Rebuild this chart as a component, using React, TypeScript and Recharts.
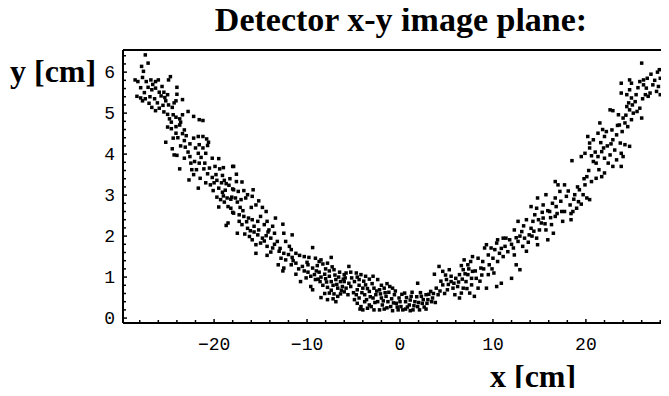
import { ScatterChart, Scatter, XAxis, YAxis } from "recharts";

// hits, [x cm, y cm]
const leftArm: [number, number][] = [
  [-27.4, 6.42], [-27.1, 6.22], [-27.8, 6.14], [-27.6, 6.02], [-28.5, 5.81], [-28.2, 5.77], [-27.7, 5.87], [-27.3, 5.77],
  [-26.8, 5.81], [-26.3, 5.77], [-26.0, 5.81], [-24.7, 5.89], [-24.9, 5.81], [-27.1, 5.63], [-26.7, 5.57], [-26.3, 5.61],
  [-25.9, 5.51], [-25.4, 5.51], [-25.0, 5.45], [-24.0, 5.63], [-24.0, 5.46], [-23.4, 5.33], [-24.1, 5.30], [-28.3, 5.41],
  [-27.9, 5.37], [-27.7, 5.30], [-27.4, 5.35], [-27.0, 5.24], [-26.7, 5.14], [-26.3, 5.06], [-25.9, 5.12], [-25.5, 5.19],
  [-25.2, 5.30], [-25.3, 5.38], [-24.5, 5.14], [-22.8, 5.04], [-22.2, 4.92], [-21.6, 4.84], [-21.2, 4.82], [-25.0, 4.97],
  [-24.8, 4.86], [-24.4, 4.96], [-24.1, 4.90], [-23.7, 4.86], [-23.4, 4.96], [-23.6, 4.78], [-25.0, 4.66], [-24.6, 4.62],
  [-24.1, 4.67], [-23.7, 4.71], [-23.2, 4.59], [-23.4, 4.50], [-24.1, 4.51], [-24.4, 4.39], [-25.2, 4.29], [-22.2, 4.39],
  [-21.7, 4.43], [-21.2, 4.43], [-20.8, 4.37], [-20.6, 4.29], [-21.6, 4.23], [-21.2, 4.15], [-22.0, 4.15], [-20.7, 4.21],
  [-23.2, 4.33], [-23.1, 4.17], [-24.5, 4.13], [-24.3, 3.98], [-24.0, 3.97], [-23.2, 3.90], [-22.6, 3.94], [-22.5, 3.78],
  [-22.1, 3.82], [-21.7, 4.02], [-20.9, 4.02], [-20.2, 3.90], [-19.5, 3.89], [-21.6, 3.78], [-21.0, 3.78], [-23.7, 3.64],
  [-22.2, 3.50], [-22.7, 3.37], [-21.5, 3.41], [-21.1, 3.64], [-20.5, 3.66], [-19.9, 3.70], [-19.4, 3.64], [-19.0, 3.67],
  [-18.0, 3.70], [-19.8, 3.50], [-20.2, 3.43], [-19.1, 3.48], [-18.9, 3.36], [-18.7, 3.28], [-18.4, 3.24], [-18.0, 3.15],
  [-20.4, 3.25], [-20.1, 3.11], [-19.5, 3.17], [-19.1, 3.07], [-21.7, 3.17], [-19.7, 2.95], [-19.3, 2.89], [-18.9, 2.83],
  [-18.6, 2.93], [-19.5, 2.71], [-18.2, 2.68], [-18.0, 2.58], [-18.7, 2.26], [-18.5, 2.32],
  [-27.9, 5.62], [-27.5, 5.50], [-26.9, 5.40], [-26.4, 5.35], [-26.1, 5.25], [-25.7, 5.42], [-25.4, 5.03], [-24.9, 5.20],
  [-24.3, 5.25], [-24.6, 4.78], [-23.9, 4.40], [-23.6, 4.20], [-22.8, 4.05], [-22.6, 4.25], [-22.4, 3.62], [-21.9, 3.62],
  [-21.4, 3.92], [-20.7, 3.52], [-20.9, 3.30], [-20.0, 3.30], [-19.7, 3.36], [-19.2, 3.30], [-18.8, 3.12], [-18.3, 3.40],
  [-18.1, 2.95], [-19.0, 2.98], [-18.5, 2.72], [-26.6, 5.70], [-25.6, 5.65], [-23.0, 4.45],
];

const leftSlope: [number, number][] = [
  [-17.9, 3.70], [-17.6, 3.51], [-17.6, 3.33], [-17.0, 3.32], [-17.9, 3.13], [-17.4, 3.09], [-16.8, 3.11], [-15.8, 3.13],
  [-16.4, 3.01], [-17.7, 2.93], [-17.1, 2.89], [-16.6, 2.93], [-17.5, 2.83], [-15.9, 2.97], [-15.2, 2.86], [-15.5, 2.76],
  [-14.8, 2.70], [-14.4, 2.60], [-17.9, 2.56], [-17.3, 2.52], [-16.8, 2.48], [-16.3, 2.44], [-15.9, 2.40], [-15.3, 2.36],
  [-17.3, 2.36], [-17.0, 2.28], [-16.4, 2.19], [-16.1, 2.13], [-15.7, 2.24], [-15.2, 2.15], [-14.6, 2.28], [-14.3, 2.36],
  [-14.1, 2.15], [-13.7, 2.24], [-13.4, 2.44], [-12.6, 2.29], [-17.5, 2.07], [-16.2, 1.99], [-15.9, 1.91], [-15.3, 2.03],
  [-14.8, 1.95], [-14.4, 2.01], [-13.9, 1.95], [-13.5, 2.07], [-12.5, 2.07], [-11.6, 2.03], [-15.5, 1.79], [-15.0, 1.83],
  [-14.3, 1.75], [-13.7, 1.71], [-13.2, 1.87], [-12.3, 1.87], [-11.9, 1.75], [-15.5, 1.58], [-14.3, 1.53], [-13.9, 1.61],
  [-13.0, 1.63], [-12.5, 1.58], [-11.7, 1.67], [-11.2, 1.58], [-9.4, 1.72], [-12.8, 1.46], [-12.3, 1.42], [-11.6, 1.48],
  [-10.8, 1.53], [-10.3, 1.50], [-9.8, 1.48], [-9.1, 1.46], [-8.5, 1.42], [-7.4, 1.48], [-13.1, 1.30], [-12.5, 1.22],
  [-11.7, 1.30], [-11.2, 1.34], [-10.5, 1.26], [-9.9, 1.30], [-9.4, 1.22], [-8.9, 1.28], [-8.3, 1.32], [-7.8, 1.34],
  [-12.6, 1.15], [-11.2, 1.07], [-9.9, 1.12], [-9.2, 1.06], [-8.7, 1.12], [-8.1, 1.07], [-7.6, 1.15], [-7.1, 1.18],
  [-6.5, 1.12], [-6.0, 1.06], [-10.7, 0.89], [-10.1, 0.98], [-9.6, 0.77], [-9.1, 0.94], [-8.6, 0.89], [-8.0, 0.96],
  [-7.4, 0.89], [-6.9, 0.94], [-6.4, 0.89], [-8.3, 0.80], [-7.8, 0.75], [-7.2, 0.80], [-6.7, 0.73], [-6.2, 0.77],
  [-8.5, 0.50], [-7.8, 0.45], [-7.2, 0.47], [-6.7, 0.53], [-7.6, 0.61], [-7.1, 0.59], [-6.4, 0.59], [-9.4, 0.69],
  [-9.0, 1.15], [-8.5, 1.00], [-8.0, 1.20], [-7.6, 1.02], [-7.3, 1.25], [-7.0, 1.05], [-6.8, 0.82], [-6.6, 1.00],
  [-6.3, 0.68], [-6.1, 0.95], [-7.9, 0.88], [-8.8, 0.95], [-9.6, 1.02], [-10.3, 1.15], [-10.9, 1.20], [-11.5, 1.40],
  [-12.0, 1.55], [-13.5, 1.80], [-14.6, 1.88], [-15.7, 2.10], [-16.5, 2.35], [-16.9, 2.62], [-16.0, 2.70], [-17.2, 2.70],
  [-18.2, 2.90], [-7.4, 0.68], [-6.0, 0.64], [-8.1, 0.60], [-6.9, 0.40], [-10.0, 1.36], [-8.7, 1.38], [-12.9, 1.70],
  [-14.2, 2.10], [-16.7, 2.05], [-15.0, 2.48],
];

const valley: [number, number][] = [
  [-5.5, 1.26], [-5.8, 1.10], [-5.3, 1.12], [-4.7, 1.10], [-4.2, 1.06], [-3.7, 1.02], [-2.9, 1.02], [-2.4, 0.94],
  [-6.0, 0.89], [-5.5, 0.85], [-4.9, 0.89], [-4.4, 0.94], [-3.7, 0.81], [-5.8, 0.73], [-5.3, 0.77], [-4.6, 0.69],
  [-4.0, 0.73], [-4.7, 0.57], [-4.4, 0.49], [-3.8, 0.57], [-3.3, 0.65], [-2.8, 0.73], [-2.2, 0.69], [-1.7, 0.73],
  [-1.1, 0.77], [-0.8, 0.73], [-4.6, 0.36], [-4.2, 0.28], [-3.8, 0.40], [-3.3, 0.32], [-2.9, 0.49], [-2.6, 0.57],
  [-2.4, 0.40], [-2.0, 0.49], [-1.9, 0.32], [-1.5, 0.53], [-1.3, 0.40], [-1.0, 0.28], [-0.6, 0.57], [-0.4, 0.36],
  [-0.1, 0.49], [0.1, 0.28], [0.5, 0.61], [0.6, 0.40], [1.0, 0.32], [1.2, 0.53], [1.6, 0.40], [1.9, 0.85],
  [1.9, 0.28], [2.3, 0.53], [2.4, 0.36], [2.8, 0.57], [3.0, 0.45], [3.3, 0.65], [3.5, 0.49], [3.9, 0.73],
  [4.1, 0.57], [4.2, 1.26], [3.7, 1.07], [4.6, 1.14], [5.0, 0.94], [5.3, 1.18], [5.5, 0.89], [4.6, 0.81],
  [5.1, 0.69], [5.7, 0.73], [-3.1, 0.28], [-2.8, 0.20], [-4.0, 0.20], [-2.2, 0.20], [-0.2, 0.20], [1.4, 0.20],
  [2.1, 0.20], [-5.6, 0.57],
  [-5.0, 0.62], [-4.9, 0.45], [-4.4, 0.80], [-4.1, 0.62], [-3.6, 0.45], [-3.5, 0.72], [-3.2, 0.52], [-3.0, 0.84],
  [-2.7, 0.38], [-2.5, 0.66], [-2.1, 0.59], [-1.8, 0.42], [-1.6, 0.62], [-1.4, 0.25], [-1.2, 0.63], [-0.9, 0.47],
  [-0.7, 0.37], [-0.5, 0.66], [-0.3, 0.27], [0.0, 0.40], [0.2, 0.58], [0.3, 0.20], [0.7, 0.50], [0.8, 0.27],
  [1.1, 0.44], [1.3, 0.63], [1.5, 0.30], [1.8, 0.52], [2.0, 0.38], [2.2, 0.62], [2.5, 0.45], [2.6, 0.27],
  [2.9, 0.36], [3.1, 0.58], [3.4, 0.40], [3.6, 0.60], [3.8, 0.38], [4.3, 0.66], [4.4, 0.90], [4.8, 0.60],
  [5.2, 0.82], [5.5, 1.02], [4.9, 1.05], [-5.9, 0.98], [-5.2, 0.98], [-4.6, 1.00], [-3.9, 0.90], [-3.3, 0.95],
  [-2.0, 0.80], [-1.4, 0.84], [-4.3, 0.22], [-3.5, 0.24], [-1.7, 0.22], [-0.8, 0.18], [0.6, 0.22], [1.1, 0.18],
  [2.8, 0.22],
];

const rightSlope: [number, number][] = [
  [5.9, 0.57], [6.2, 0.77], [6.6, 0.61], [6.0, 0.97], [6.4, 1.06], [6.8, 1.18], [6.9, 1.42], [7.3, 1.30],
  [7.8, 1.50], [7.1, 0.89], [7.7, 0.81], [7.5, 0.61], [8.0, 0.53], [8.2, 0.97], [8.4, 0.73], [7.8, 1.14],
  [8.7, 1.22], [8.9, 1.38], [9.1, 1.71], [9.3, 1.79], [9.5, 1.06], [9.3, 0.73], [9.6, 1.30], [10.0, 1.46],
  [10.2, 1.67], [10.4, 1.83], [10.5, 1.38], [10.4, 0.77], [10.9, 0.85], [11.1, 1.50], [11.3, 1.75], [11.4, 1.95],
  [11.8, 1.91], [12.0, 0.97], [12.2, 1.71], [12.3, 1.54], [12.5, 1.30], [12.9, 1.18], [12.7, 1.87], [13.1, 2.11],
  [13.2, 1.75], [13.4, 1.95], [13.6, 1.63], [13.9, 2.03], [14.1, 2.19], [14.3, 2.36], [14.5, 2.52], [14.7, 1.95],
  [14.8, 1.79], [15.0, 2.15], [15.2, 2.32], [15.4, 2.44], [15.7, 2.15], [15.9, 1.91], [16.1, 2.60], [16.3, 2.28],
  [16.5, 2.07], [16.7, 2.48], [16.8, 2.72], [16.7, 2.93], [17.2, 3.09], [17.0, 3.25], [16.7, 3.33], [17.4, 2.60],
  [17.5, 2.36], [14.8, 2.93], [15.7, 3.01], [14.7, 2.68], [13.6, 2.40], [12.3, 2.15], [12.7, 2.36], [11.1, 1.95],
  [10.5, 1.91], [9.8, 1.71], [9.5, 1.54], [8.4, 1.46], [7.3, 1.06], [6.8, 0.73], [6.4, 0.49], [7.7, 0.97],
  [14.1, 2.72], [15.4, 2.76],
  [6.3, 0.88], [6.7, 0.95], [7.0, 1.08], [7.4, 1.20], [7.6, 1.38], [8.1, 1.15], [8.6, 0.90], [8.8, 1.05],
  [9.0, 1.20], [9.9, 1.20], [10.1, 1.10], [10.7, 1.58], [10.9, 1.70], [11.6, 1.62], [12.0, 1.80], [12.5, 1.96],
  [12.9, 2.00], [13.3, 2.25], [13.8, 1.85], [14.2, 2.00], [14.4, 2.12], [14.9, 2.40], [15.3, 2.58], [15.6, 2.30],
  [15.9, 2.62], [16.2, 2.45], [16.4, 2.80], [16.9, 2.55], [17.3, 2.85], [7.2, 0.72], [5.8, 0.85], [6.6, 1.28],
];

const rightArm: [number, number][] = [
  [17.7, 3.25], [17.9, 2.97], [18.3, 2.76], [17.7, 2.60], [18.4, 2.40], [18.6, 2.60], [19.0, 2.68], [19.2, 2.84],
  [18.8, 3.01], [19.3, 3.13], [19.7, 3.01], [20.1, 2.93], [20.4, 2.89], [19.9, 3.25], [20.1, 3.45], [20.6, 3.33],
  [21.1, 3.41], [21.7, 3.45], [22.0, 3.54], [18.5, 3.84], [19.5, 3.94], [19.9, 4.02], [20.4, 4.15], [20.8, 3.82],
  [21.1, 3.78], [21.3, 3.94], [21.7, 4.06], [21.9, 4.15], [22.0, 3.90], [22.4, 3.78], [22.6, 3.98], [22.9, 3.70],
  [23.3, 3.86], [23.8, 3.70], [24.0, 3.94], [23.8, 4.02], [20.2, 4.43], [20.8, 4.35], [20.4, 4.27], [21.3, 4.51],
  [21.5, 4.76], [22.0, 4.43], [22.2, 4.55], [22.8, 4.59], [22.9, 4.35], [23.3, 4.47], [23.7, 4.27], [24.2, 4.23],
  [24.7, 4.19], [22.6, 5.08], [22.9, 5.06], [23.5, 4.96], [24.0, 4.88], [24.2, 4.76], [24.5, 4.67], [23.6, 4.71],
  [24.4, 5.16], [24.7, 5.08], [25.1, 5.00], [25.5, 5.04], [26.0, 4.88], [24.9, 4.84], [25.8, 5.12], [23.8, 5.49],
  [24.4, 5.45], [24.9, 5.37], [25.3, 5.28], [24.7, 5.57], [23.8, 5.73], [24.7, 5.81], [25.8, 5.77], [26.2, 5.69],
  [26.5, 5.61], [26.4, 5.45], [26.7, 5.41], [27.2, 5.69], [27.8, 5.65], [28.0, 5.45], [28.0, 5.85], [27.9, 6.06],
  [26.0, 6.22], [26.2, 5.81], [27.6, 5.53], [24.9, 5.73], [26.9, 5.49],
  [18.1, 3.10], [18.4, 2.55], [18.7, 2.90], [19.1, 3.20], [19.5, 2.78], [19.8, 3.40], [20.3, 3.60], [20.6, 3.96],
  [21.0, 4.05], [21.4, 3.62], [21.6, 4.28], [22.3, 4.20], [22.7, 4.25], [23.1, 4.10], [23.4, 4.70], [23.9, 4.55],
  [24.3, 4.95], [24.6, 5.25], [25.0, 5.20], [25.4, 5.45], [25.6, 5.62], [26.1, 5.35], [26.6, 5.85], [27.0, 5.95],
  [27.4, 5.80], [27.7, 6.00], [21.8, 4.60],
];

const xTicks = [-28, -26, -24, -22, -20, -18, -16, -14, -12, -10, -8, -6, -4, -2, 0, 2, 4, 6, 8, 10, 12, 14, 16, 18, 20, 22, 24, 26, 28];
const xLabels = [-20, -10, 0, 10, 20];
const yTicks = [0, 0.2, 0.4, 0.6, 0.8, 1, 1.2, 1.4, 1.6, 1.8, 2, 2.2, 2.4, 2.6, 2.8, 3, 3.2, 3.4, 3.6, 3.8, 4, 4.2, 4.4, 4.6, 4.8, 5, 5.2, 5.4, 5.6, 5.8, 6, 6.2, 6.4];
const yLabels = [0, 1, 2, 3, 4, 5, 6];

const points = [...leftArm, ...leftSlope, ...valley, ...rightSlope, ...rightArm].map(([x, y]) => ({ x, y }));

const tickFont = { fontFamily: "'Liberation Mono', monospace", fontSize: 18, fill: "#000" };
const labelFont = { fontFamily: "'Liberation Serif', 'Times New Roman', serif", fontWeight: 700, fill: "#000" };

const fmt = (v: number) => (v < 0 ? "\u2212" + Math.abs(v) : String(v));

const BottomTick = (props: any) => {
  const { x, y, payload } = props;
  const major = xLabels.includes(payload.value);
  return (
    <g>
      <line x1={x} x2={x} y1={y} y2={y - (major ? 4 : 3)} stroke="#000" strokeWidth={1.5} />
      {major && (
        <text x={x} y={y + 27} textAnchor="middle" {...tickFont}>
          {fmt(payload.value)}
        </text>
      )}
    </g>
  );
};

const TopTick = (props: any) => {
  const { x, y } = props;
  return <line x1={x} x2={x} y1={y} y2={y + 3} stroke="#000" strokeWidth={1.5} />;
};

const LeftTick = (props: any) => {
  const { x, y, payload } = props;
  const major = yLabels.includes(payload.value);
  return (
    <g>
      <line x1={x} x2={x + (major ? 4 : 3)} y1={y} y2={y} stroke="#000" strokeWidth={1.5} />
      {major && (
        <text x={x - 8} y={y + 6} textAnchor="end" {...tickFont}>
          {payload.value}
        </text>
      )}
    </g>
  );
};

const Dot = (props: any) => (
  <rect x={props.cx - 1.75} y={props.cy - 1.75} width={3.5} height={3.5} fill="#000" />
);

export default function App() {
  return (
    <div style={{ position: "relative", width: 669, height: 396, margin: -8, overflow: "hidden", background: "#fff" }}>
      <ScatterChart width={680} height={396} margin={{ top: 49, right: 3, bottom: 72, left: 122 }}>
        <XAxis
          type="number"
          dataKey="x"
          domain={[-29.8, 29.8]}
          ticks={xTicks}
          interval={0}
          height={1}
          tickSize={0}
          tickMargin={0}
          tickLine={false}
          axisLine={{ stroke: "#000", strokeWidth: 2 }}
          tick={(p: any) => <BottomTick {...p} />}
          allowDataOverflow
        />
        <XAxis
          xAxisId="top"
          orientation="top"
          type="number"
          domain={[-29.8, 29.8]}
          ticks={xLabels}
          interval={0}
          height={1}
          tickSize={0}
          tickMargin={0}
          tickLine={false}
          axisLine={{ stroke: "#000", strokeWidth: 2 }}
          tick={(p: any) => <TopTick {...p} />}
          allowDataOverflow
        />
        <YAxis
          type="number"
          dataKey="y"
          domain={[-0.12, 6.54]}
          ticks={yTicks}
          interval={0}
          width={1}
          tickSize={0}
          tickMargin={0}
          tickLine={false}
          axisLine={{ stroke: "#000", strokeWidth: 2 }}
          tick={(p: any) => <LeftTick {...p} />}
          allowDataOverflow
        />
        <Scatter data={points} isAnimationActive={false} shape={Dot} />
      </ScatterChart>
      <svg width={669} height={396} style={{ position: "absolute", left: 0, top: 0, pointerEvents: "none" }}>
        <text x={401} y={31} textAnchor="middle" fontSize={34} {...labelFont}>
          Detector x-y image plane:
        </text>
        <text x={10} y={82} fontSize={32} {...labelFont}>
          y [cm]
        </text>
        <text x={490} y={387} fontSize={32} {...labelFont}>
          x [cm]
        </text>
      </svg>
    </div>
  );
}
